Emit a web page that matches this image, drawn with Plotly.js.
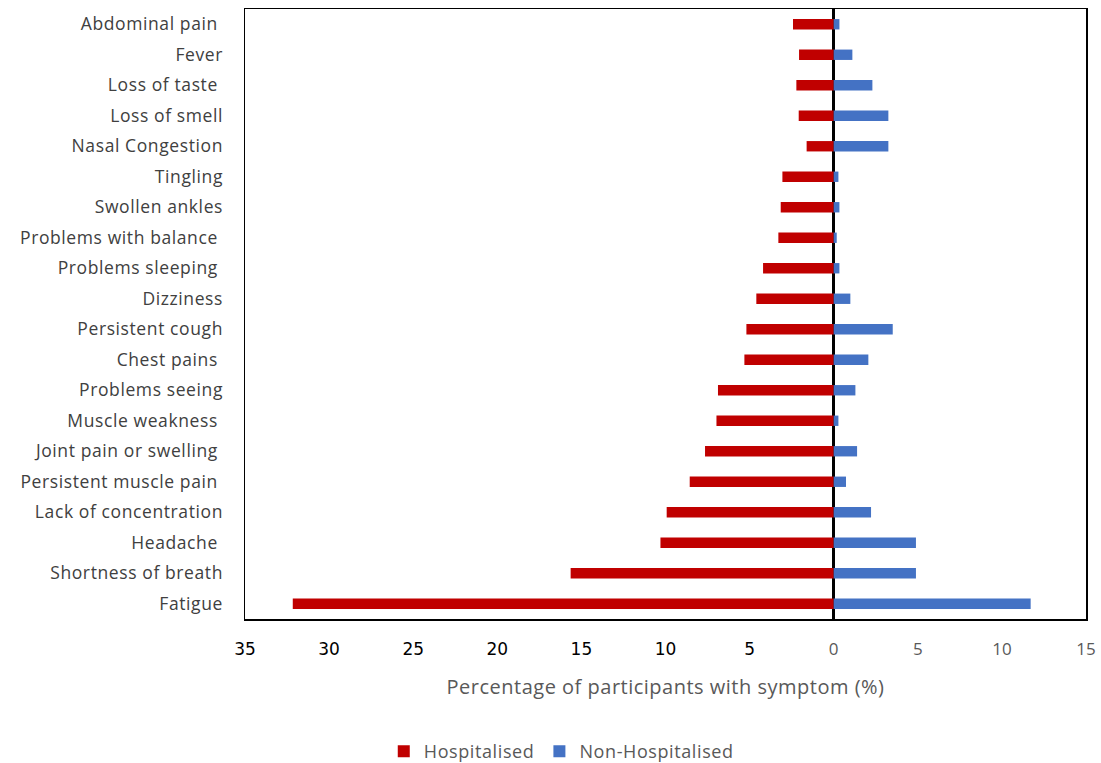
<!DOCTYPE html>
<html>
<head>
<meta charset="utf-8">
<script src="https://cdn.plot.ly/plotly-3.0.1.min.js"></script>
<style>
html,body{margin:0;padding:0;background:#fff;}
#chart{width:1101px;height:763px;}
.ytick text{letter-spacing:0.6px;}
.g-xtitle text{letter-spacing:0.5px;}
.legendtext{letter-spacing:0.6px;}
</style>
</head>
<body>
<div id="chart"></div>
<script>
const symptoms = [
  "Abdominal pain\u00a0", "Fever", "Loss of taste\u00a0", "Loss of smell", "Nasal Congestion",
  "Tingling", "Swollen ankles", "Problems with balance\u00a0", "Problems sleeping\u00a0", "Dizziness",
  "Persistent cough", "Chest pains\u00a0", "Problems seeing", "Muscle weakness\u00a0", "Joint pain or swelling\u00a0",
  "Persistent muscle pain\u00a0", "Lack of concentration", "Headache\u00a0", "Shortness of breath", "Fatigue"
];
const hospitalised = [2.42, 2.06, 2.22, 2.08, 1.61, 3.05, 3.15, 3.29, 4.20, 4.60,
  5.19, 5.31, 6.88, 6.97, 7.65, 8.56, 9.93, 10.3, 15.64, 32.16];
const nonHospitalised = [0.34, 1.11, 2.30, 3.25, 3.25, 0.28, 0.34, 0.18, 0.34, 0.99,
  3.51, 2.06, 1.29, 0.28, 1.39, 0.73, 2.22, 4.89, 4.89, 11.71];
const tickVals = [-35, -30, -25, -20, -15, -10, -5, 0, 5, 10, 15];
const tickLabels = ["35", "30", "25", "20", "15", "10", "5", "0", "5", "10", "15"];

const tickText = tickLabels.map((t, i) => tickVals[i] < 0
  ? '<span style="fill:#000000;font-family:DejaVu Sans">' + t + '</span>'
  : t);

const traces = [
  {
    type: 'bar', orientation: 'h', name: 'Hospitalised',
    y: symptoms, x: hospitalised.map(v => -v),
    marker: {color: '#C00000'}, hoverinfo: 'skip'
  },
  {
    type: 'bar', orientation: 'h', name: 'Non-Hospitalised',
    y: symptoms, x: nonHospitalised,
    marker: {color: '#4472C4'}, hoverinfo: 'skip'
  }
];

const layout = {
  width: 1101, height: 763,
  margin: {l: 245, r: 15, t: 9, b: 144, autoexpand: false},
  paper_bgcolor: '#ffffff', plot_bgcolor: '#ffffff',
  barmode: 'relative', bargap: 0.66,
  font: {family: 'Open Sans, Liberation Sans, sans-serif', color: '#595959', size: 17},
  xaxis: {
    range: [-35, 15], tickvals: tickVals, ticktext: tickText,
    showgrid: false, zeroline: true, zerolinecolor: '#000000', zerolinewidth: 2.5,
    showline: true, linecolor: '#000000', linewidth: 1.5, mirror: true,
    ticks: '', ticklabelstandoff: 14,
    tickfont: {size: 17, color: '#595959'},
    title: {text: 'Percentage of participants with symptom (%)', font: {size: 20, color: '#595959'}, standoff: 21}
  },
  yaxis: {
    categoryorder: 'array', categoryarray: symptoms.slice().reverse(),
    showgrid: false, zeroline: false,
    showline: true, linecolor: '#000000', linewidth: 1.5, mirror: true,
    ticks: '', ticklabelstandoff: 17,
    tickfont: {size: 17.5, color: '#404040'}
  },
  legend: {
    orientation: 'h', x: 0.165, xanchor: 'left', y: -0.187, yanchor: 'top',
    font: {size: 18, color: '#595959'}, traceorder: 'normal', itemwidth: 30
  },
  showlegend: true
};

Plotly.newPlot('chart', traces, layout, {displayModeBar: false, staticPlot: true});
</script>
</body>
</html>
